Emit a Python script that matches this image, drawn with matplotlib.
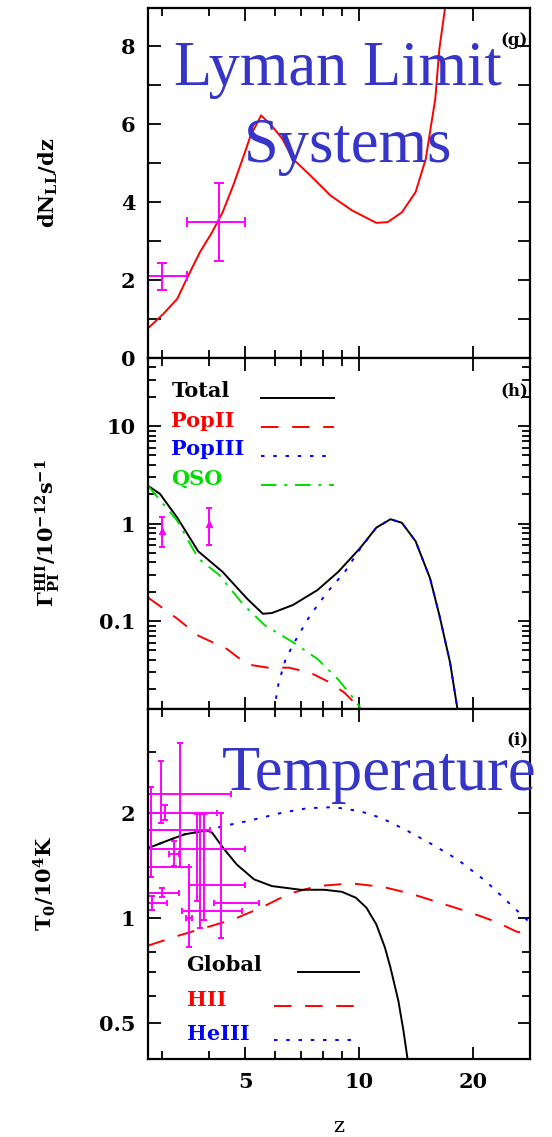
import matplotlib
matplotlib.use("Agg")
import numpy as np
import matplotlib.pyplot as plt
from matplotlib.ticker import NullFormatter, LogLocator

plt.rcParams['font.family'] = 'DejaVu Serif'
plt.rcParams['font.weight'] = 'bold'
plt.rcParams['mathtext.fontset'] = 'dejavuserif'
plt.rcParams['mathtext.default'] = 'bf'

MAGENTA = "#ff00ff"
OVERLAY = "#3535c8"
FS = 15

# ---- panel (g): Lyman limit systems ----
z_ll = [2.76, 3.03, 3.30, 3.51, 3.79, 4.08, 4.35, 4.64, 4.95, 5.16, 5.50, 5.86,
        6.26, 6.68, 7.42, 8.40, 9.57, 11.1, 11.9, 12.97, 14.1, 15.0, 15.9, 16.3, 16.9]
dn_ll = [0.76, 1.13, 1.52, 2.07, 2.72, 3.23, 3.74, 4.43, 5.20, 5.71, 6.23, 5.97,
         5.63, 5.11, 4.69, 4.17, 3.79, 3.47, 3.49, 3.74, 4.26, 5.11, 6.66, 7.94, 9.04]
ll_obs_z = [3.0, 4.25]
ll_obs_dz = [0.5, 0.75]
ll_obs_n = [2.1, 3.5]
ll_obs_dn = [0.35, 1.0]

# ---- panel (h): photoionization rate ----
z_tot = [2.76, 2.97, 3.30, 3.75, 4.35, 5.05, 5.56, 5.87, 6.67, 7.75, 8.80, 10.05,
         11.1, 12.1, 12.97, 14.1, 15.4, 16.3, 17.4, 18.2]
g_tot = [2.45, 2.02, 1.15, 0.52, 0.32, 0.17, 0.119, 0.121, 0.146, 0.208, 0.32, 0.56,
         0.91, 1.11, 1.02, 0.66, 0.275, 0.115, 0.0375, 0.0125]
z_p2 = [2.76, 3.30, 3.75, 4.46, 5.05, 5.74, 6.52, 7.42, 8.40, 9.16, 10.2]
g_p2 = [0.175, 0.106, 0.071, 0.052, 0.036, 0.0333, 0.0333, 0.0296, 0.0233, 0.0183, 0.012]
z_p3 = [5.95, 6.12, 6.39, 6.82, 7.42, 8.25, 9.16, 10.05, 11.1, 12.1, 12.97, 14.1,
        15.4, 16.3, 17.4, 18.2]
g_p3 = [0.012, 0.0233, 0.041, 0.066, 0.115, 0.20, 0.32, 0.55, 0.91, 1.11, 1.02, 0.66,
        0.275, 0.115, 0.0375, 0.0125]
z_qso = [2.76, 3.30, 3.75, 4.25, 4.95, 5.64, 6.67, 7.75, 8.80, 9.57, 10.2]
g_qso = [2.45, 1.07, 0.44, 0.30, 0.146, 0.090, 0.061, 0.041, 0.0252, 0.0169, 0.012]
gam_obs_z = [3.0, 4.0]
gam_obs = [0.84, 0.99]
gam_obs_lo = [0.57, 0.61]
gam_obs_hi = [1.18, 1.44]

# ---- panel (i): temperature ----
z_glob = [2.76, 3.09, 3.45, 3.95, 4.08, 4.36, 4.74, 5.27, 5.87, 7.0, 8.08, 9.0, 9.8,
          10.45, 11.1, 11.7, 12.1, 12.7, 13.1, 13.45]
t_glob = [1.59, 1.667, 1.742, 1.788, 1.762, 1.595, 1.428, 1.294, 1.238, 1.208, 1.208,
          1.192, 1.146, 1.073, 0.961, 0.824, 0.722, 0.579, 0.475, 0.39]
z_hii = [2.76, 3.30, 3.91, 4.64, 5.50, 6.53, 7.75, 9.57, 11.6, 13.7, 16.3, 19.4, 23.0,
         26.1, 28.3]
t_hii = [0.835, 0.890, 0.940, 0.993, 1.073, 1.177, 1.238, 1.260, 1.230, 1.177, 1.109,
         1.045, 0.978, 0.916, 0.90]
z_heiii = [2.76, 3.09, 3.45, 3.95, 4.08, 4.36, 5.05, 6.26, 7.28, 8.58, 10.05, 11.4,
           13.2, 15.6, 18.2, 21.6, 24.6, 28.3]
t_heiii = [1.59, 1.667, 1.742, 1.788, 1.80, 1.84, 1.90, 2.01, 2.07, 2.085, 2.03, 1.944,
           1.80, 1.63, 1.476, 1.28, 1.121, 0.972]
t0_z = [3.35, 2.98, 3.06, 2.81, 3.73, 3.01, 2.83, 3.88, 4.32, 3.80, 3.54, 3.23]
t0_zlo = [2.56, 2.56, 2.56, 2.56, 2.56, 2.56, 2.56, 3.54, 4.12, 3.40, 3.47, 3.14]
t0_zhi = [4.04, 4.57, 4.21, 3.54, 5.00, 3.33, 3.10, 5.00, 5.42, 4.90, 3.61, 3.33]
t0 = [1.79, 2.27, 2.01, 1.40, 1.58, 1.18, 1.11, 1.25, 1.11, 1.05, 1.00, 1.53]
t0_lo = [1.40, 1.88, 1.92, 1.31, 1.12, 1.15, 1.06, 0.99, 0.88, 0.94, 0.83, 1.41]
t0_hi = [3.18, 2.83, 2.11, 2.38, 1.99, 1.22, 1.16, 1.99, 2.01, 1.99, 1.40, 1.67]

x_ticks = [5, 10, 20]
x_minor = [3, 4, 6, 7, 8, 9]

fig = plt.figure(figsize=(5.52, 11.37), dpi=100)
gs = fig.add_gridspec(3, 1, left=0.268, right=0.960, top=0.9934, bottom=0.0686, hspace=0)
axg = fig.add_subplot(gs[0])
axh = fig.add_subplot(gs[1], sharex=axg)
axi = fig.add_subplot(gs[2], sharex=axg)

lw = 1.4
dash = (9, 7)
dots = (1.8, 4.5)
dashdot = (8, 4, 1.5, 4)

for ax in (axg, axh, axi):
    ax.set_xscale('log')
    for s in ax.spines.values():
        s.set_linewidth(1.6)
    ax.tick_params(which='both', direction='in', top=True, right=True,
                   width=1.3, labelsize=FS, pad=9)
    ax.tick_params(which='major', length=9)
    ax.tick_params(which='minor', length=5.5)
axg.set_xlim(2.76, 28.3)
axi.set_xticks(x_ticks, labels=[str(t) for t in x_ticks])
axi.set_xticks(x_minor, minor=True)
axi.xaxis.set_minor_formatter(NullFormatter())
axg.tick_params(labelbottom=False)
axh.tick_params(labelbottom=False)
axi.set_xlabel('z', fontsize=FS, labelpad=18)

# (g)
axg.plot(z_ll, dn_ll, color='red', lw=lw)
axg.errorbar(ll_obs_z, ll_obs_n, xerr=ll_obs_dz, yerr=ll_obs_dn, fmt='none',
             ecolor=MAGENTA, elinewidth=1.4, capsize=3.5, capthick=1.4)
axg.set_ylim(0, 9)
axg.set_yticks([0, 2, 4, 6, 8])
axg.set_yticks([1, 3, 5, 7], minor=True)
axg.tick_params(axis='y', which='minor', length=9)
axg.set_ylabel(r'$dN_{LL}/dz$', fontsize=FS, va='center')
axg.yaxis.set_label_coords(-0.262, 0.5)
axg.text(0.995, 0.905, '(g)', transform=axg.transAxes, ha='right', va='center', fontsize=12)

# (h)
axh.set_yscale('log')
axh.plot(z_tot, g_tot, color='black', lw=lw)
axh.plot(z_p2, g_p2, color='red', lw=lw, dashes=dash)
axh.plot(z_p3, g_p3, color='blue', lw=lw, dashes=dots)
axh.plot(z_qso, g_qso, color='#00dd00', lw=lw, dashes=dashdot)
g_err = [np.subtract(gam_obs, gam_obs_lo), np.subtract(gam_obs_hi, gam_obs)]
axh.errorbar(gam_obs_z, gam_obs, yerr=g_err, fmt='^', color=MAGENTA, ms=5,
             elinewidth=1.4, capsize=2.5, capthick=1.4)
axh.set_ylim(0.0127, 50)
axh.set_yticks([0.1, 1, 10], labels=['0.1', '1', '10'])
axh.yaxis.set_minor_locator(LogLocator(base=10, subs=np.arange(2, 10)))
axh.yaxis.set_minor_formatter(NullFormatter())
axh.set_ylabel(r'$\Gamma_{PI}^{HII}/10^{-12}s^{-1}$', fontsize=FS, va='center')
axh.yaxis.set_label_coords(-0.262, 0.5)
axh.text(0.995, 0.905, '(h)', transform=axh.transAxes, ha='right', va='center', fontsize=12)

leg_h = [('Total', 'black', None, 0.907, 0.886),
         ('PopII', 'red', dash, 0.820, 0.804),
         ('PopIII', 'blue', dots, 0.739, 0.720),
         ('QSO', '#00dd00', dashdot, 0.654, 0.638)]
for name, col, ds, ty, ly in leg_h:
    axh.text(0.0615, ty, name, color=col, transform=axh.transAxes, va='center', fontsize=FS)
    kw = {} if ds is None else {'dashes': ds}
    axh.plot([0.295, 0.488], [ly, ly], transform=axh.transAxes, color=col, lw=lw, **kw)

# (i)
axi.set_yscale('log')
axi.plot(z_heiii, t_heiii, color='blue', lw=lw, dashes=dots)
axi.plot(z_hii, t_hii, color='red', lw=lw, dashes=dash)
axi.plot(z_glob, t_glob, color='black', lw=lw)
zerr = [np.subtract(t0_z, t0_zlo), np.subtract(t0_zhi, t0_z)]
terr = [np.subtract(t0, t0_lo), np.subtract(t0_hi, t0)]
axi.errorbar(t0_z, t0, xerr=zerr, yerr=terr, fmt='none', ecolor=MAGENTA,
             elinewidth=1.4, capsize=2.5, capthick=1.4)
axi.set_ylim(0.395, 4.0)
axi.set_yticks([0.5, 1, 2], labels=['0.5', '1', '2'])
axi.set_yticks([0.6, 0.7, 0.8, 3], minor=True)
axi.yaxis.set_minor_formatter(NullFormatter())
axi.set_ylabel(r'$T_0/10^4K$', fontsize=FS, va='center')
axi.yaxis.set_label_coords(-0.27, 0.5)
axi.text(0.995, 0.91, '(i)', transform=axi.transAxes, ha='right', va='center', fontsize=12)

leg_i = [('Global', 'black', None, 0.267, 0.248, 0.394),
         ('HII', 'red', dash, 0.168, 0.150, 0.330),
         ('HeIII', 'blue', dots, 0.072, 0.054, 0.330)]
for name, col, ds, ty, ly, lx in leg_i:
    axi.text(0.101, ty, name, color=col, transform=axi.transAxes, va='center', fontsize=FS)
    kw = {} if ds is None else {'dashes': ds}
    axi.plot([lx, 0.553], [ly, ly], transform=axi.transAxes, color=col, lw=lw, **kw)

# overlay titles
fig.text(0.6114, 0.9252, 'Lyman Limit', family='Liberation Serif', weight='normal',
         fontsize=45, color=OVERLAY, ha='center', va='baseline')
fig.text(0.630, 0.8578, 'Systems', family='Liberation Serif', weight='normal',
         fontsize=45, color=OVERLAY, ha='center', va='baseline')
fig.text(0.6866, 0.3052, 'Temperature', family='Liberation Serif', weight='normal',
         fontsize=45, color=OVERLAY, ha='center', va='baseline')

fig.savefig('out.png', dpi=100)
